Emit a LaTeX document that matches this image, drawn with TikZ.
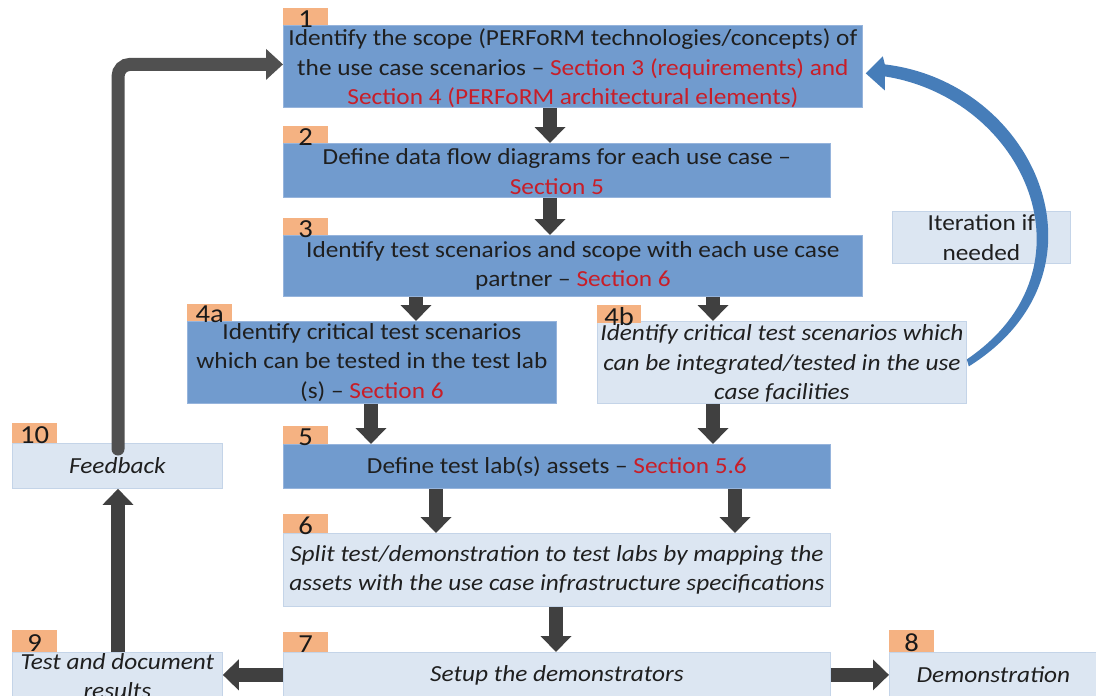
\documentclass[tikz,border=0pt]{standalone}
\usepackage{fontspec}
\setmainfont{Carlito}[FakeStretch=1.1]
\usetikzlibrary{arrows.meta,calc}

\definecolor{boxdark}{RGB}{113,155,206}
\definecolor{edgedark}{RGB}{150,180,220}
\definecolor{boxlight}{RGB}{220,230,242}
\definecolor{edgelight}{RGB}{196,212,232}
\definecolor{tagfill}{RGB}{245,178,130}
\definecolor{secred}{RGB}{200,30,40}
\definecolor{flowgray}{RGB}{64,64,64}
\definecolor{loopgray}{RGB}{80,80,80}
\definecolor{loopblue}{RGB}{70,125,185}

\newcommand\sect[1]{\textcolor{secred}{#1}}
% \stepbox{name}{style}{x1}{y1}{x2}{y2}: plain rectangle given by its corners
\newcommand\stepbox[6]{%
  \node[#2, minimum width={(#5-#3)*1pt}, minimum height={(#6-#4)*1pt}, anchor=north west] (#1) at (#3,#4) {};}
% \numtag{name}{x}{y}{w}{h}{text}: orange number tab
\newcommand\numtag[6]{%
  \node[tagbox, minimum width=#4pt, minimum height=#5pt, anchor=north west] (#1) at (#2,#3) {};
  \node[tagtext] (#1-n) at ([yshift=-2pt]#1.center) {#6};}

\tikzset{
  x=1pt, y=-1pt,
  darkbox/.style={draw=edgedark, fill=boxdark, line width=0.8pt, inner sep=0},
  lightbox/.style={draw=edgelight, fill=boxlight, line width=0.8pt, inner sep=0},
  tagbox/.style={fill=tagfill, inner sep=0},
  tagtext/.style={inner sep=0, font=\fontsize{26}{26}\selectfont, text=black!90},
  txt/.style={inner sep=0, align=center, text=black!88, font=\fontsize{23}{29.5}\selectfont},
  itxt/.style={txt, font=\fontsize{23}{29.5}\selectfont\itshape},
  flow/.style={draw=flowgray, line width=14pt, -{Triangle[length=16pt, width=30pt]}},
  loopline/.style={draw=loopgray, line width=13pt, rounded corners=12pt, line cap=round,
                   -{Triangle[length=17pt, width=30pt]}},
}

\begin{document}
\begin{tikzpicture}
\useasboundingbox (0,0) rectangle (1096,696);

% process boxes
\stepbox{b1}{darkbox}{283}{25}{862}{107}
\stepbox{b2}{darkbox}{283}{143}{830}{197}
\stepbox{b3}{darkbox}{283}{235}{862}{296}
\stepbox{b4a}{darkbox}{187}{321}{556}{403}
\stepbox{b4b}{lightbox}{597}{321}{966}{403}
\stepbox{bit}{lightbox}{892}{211}{1070}{263}
\stepbox{b5}{darkbox}{283}{444}{830}{488}
\stepbox{b6}{lightbox}{283}{533}{830}{606}
\stepbox{b7}{lightbox}{283}{652}{830}{697}
\stepbox{b8}{lightbox}{889}{652}{1097}{697}
\stepbox{b9}{lightbox}{12}{652}{222}{697}
\stepbox{b10}{lightbox}{12}{443}{222}{488}

% number tabs
\numtag{t1}{283}{8}{45}{17}{1}
\numtag{t2}{283}{126}{45}{17}{2}
\numtag{t3}{283}{218}{45}{17}{3}
\numtag{t4a}{187}{304}{45}{17}{4a}
\numtag{t4b}{597}{305}{44}{18}{4b}
\numtag{t5}{283}{426}{45}{18}{5}
\numtag{t6}{283}{514}{45}{19}{6}
\numtag{t7}{283}{632}{45}{20}{7}
\numtag{t8}{889}{630}{45}{22}{8}
\numtag{t9}{12}{630}{45}{22}{9}
\numtag{t10}{12}{423}{45}{20}{10}

% texts
\node[txt] (x1) at ([yshift=-2pt]b1.center) {Identify the scope (PERFoRM technologies/concepts) of\\
  the use case scenarios -- \sect{Section 3 (requirements) and}\\
  \sect{Section 4 (PERFoRM architectural elements)}};
\node[txt] (x2) at ([yshift=-1pt]b2.center) {Define data flow diagrams for each use case --\\ \sect{Section 5}};
\node[txt] (x3) at (b3.center) {Identify test scenarios and scope with each use case\\ partner -- \sect{Section 6}};
\node[txt] (x4a) at (b4a.center) {Identify critical test scenarios\\ which can be tested in the test lab\\ (s) -- \sect{Section 6}};
\node[itxt] (x4b) at ([yshift=-1pt]b4b.center) {Identify critical test scenarios which\\ can be integrated/tested in the use\\ case facilities};
\node[txt] (xit) at (bit.center) {Iteration if\\ needed};
\node[txt] (x5) at (b5.center) {Define test lab(s) assets -- \sect{Section 5.6}};
\node[itxt] (x6) at (b6.center) {Split test/demonstration to test labs by mapping the\\ assets with the use case infrastructure specifications};
\node[itxt] (x7) at (b7.center) {Setup the demonstrators};
\node[itxt] (x8) at (b8.center) {Demonstration};
\node[itxt] (x9) at ([yshift=-1pt]b9.center) {Test and document\\ results};
\node[itxt] (x10) at (b10.center) {Feedback};

% columns of the flow arrows
\coordinate (cA) at (550,0);
\coordinate (cB) at (416,0);
\coordinate (cC) at (713,0);
\coordinate (cD) at (371,0);
\coordinate (cE) at (436,0);
\coordinate (cF) at (735,0);
\coordinate (cG) at (556,0);
\coordinate (cH) at (118,0);

% main flow
\draw[flow] (b1.south -| cA) -- (b2.north -| cA);
\draw[flow] (b2.south -| cA) -- (b3.north -| cA);
\draw[flow] (b3.south -| cB) -- (b4a.north -| cB);
\draw[flow] (b3.south -| cC) -- (b4b.north -| cC);
\draw[flow] (b4a.south -| cD) -- (b5.north -| cD);
\draw[flow] (b4b.south -| cC) -- (b5.north -| cC);
\draw[flow] (b5.south -| cE) -- (b6.north -| cE);
\draw[flow] (b5.south -| cF) -- (b6.north -| cF);
\draw[flow] (b6.south -| cG) -- (b7.north -| cG);
\draw[flow] (b7.west) -- (b9.east);
\draw[flow] (b7.east) -- (b8.west);
\draw[flow] (b9.north -| cH) -- (b10.south -| cH);

% feedback loop back to step 1
\draw[loopline] ([yshift=-6pt]b10.north -| cH) -- ([yshift=2pt]b1.west -| cH) -- ([yshift=2pt]b1.west);

% iteration arrow from 4b back to 1
\coordinate (S) at (b4b.east);
\coordinate (T) at ([shift={(3,7)}]b1.east);
\fill[loopblue] (T) -- ($(T)+(17,-17)$) -- ($(T)+(19,-9)$)
  .. controls ($(T)+(171,9)$) and ($(T)+(253,199)$) .. ($(S)+(2,4)$)
  -- ($(S)+(0,-3)$)
  .. controls ($(T)+(235,195)$) and ($(T)+(159,25)$) .. ($(T)+(19,3)$)
  -- ($(T)+(19,17)$) -- cycle;
\end{tikzpicture}
\end{document}
